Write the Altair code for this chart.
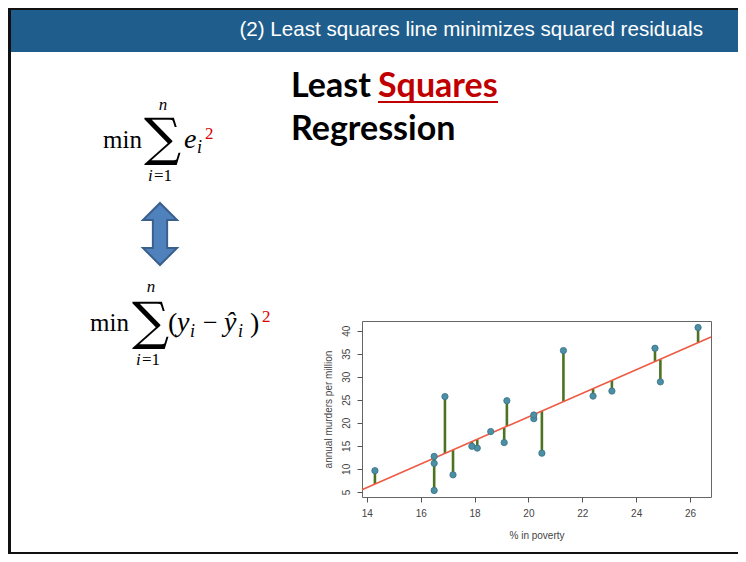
import altair as alt
import pandas as pd
import numpy as np

# ---- data (OpenIntro murder vs poverty, 20 metro areas) ----
poverty = [16.5, 20.5, 26.3, 16.5, 19.2, 16.5, 20.2, 21.3, 17.2, 14.3,
           18.1, 23.1, 19.1, 24.7, 18.6, 24.9, 17.9, 22.4, 20.2, 16.9]
murder = [11.2, 13.4, 40.7, 5.3, 24.8, 12.7, 20.9, 35.7, 8.7, 9.6,
          14.5, 26.9, 15.7, 36.2, 18.1, 28.9, 14.9, 25.8, 21.7, 25.7]
x_ticks = [14, 16, 18, 20, 22, 24, 26]
y_ticks = [5, 10, 15, 20, 25, 30, 35, 40]
x_domain = [13.82, 26.78]
y_domain = [3.88, 42.12]

slope, intercept = np.polyfit(poverty, murder, 1)
df = pd.DataFrame({"poverty": poverty, "murder": murder})
df["fitted"] = intercept + slope * df["poverty"]

# plot-area origin on the page
OX, OY = 362, 321
one = pd.DataFrame({"a": [0]})

xs = alt.Scale(domain=x_domain, nice=False, zero=False)
ys = alt.Scale(domain=y_domain, nice=False, zero=False)
x_axis = alt.Axis(values=x_ticks, title="% in poverty", labelPadding=6,
                  titlePadding=12, labelOverlap=False, labelFlush=False)
y_axis = alt.Axis(values=y_ticks, title="annual murders per million",
                  labelAngle=270, labelAlign="center", labelBaseline="bottom",
                  labelPadding=6, titlePadding=8, labelOverlap=False,
                  labelFlush=False, labelBound=False)

base = alt.Chart(df)

resid = base.mark_rule(color="#4B7322", strokeWidth=2.6).encode(
    x=alt.X("poverty:Q", scale=xs, axis=x_axis),
    y=alt.Y("fitted:Q", scale=ys, axis=y_axis),
    y2="murder:Q",
)

reg = base.transform_regression("poverty", "murder", extent=x_domain).mark_line(
    color="#EE5A44", strokeWidth=1.6
).encode(x=alt.X("poverty:Q", scale=xs, axis=x_axis),
         y=alt.Y("murder:Q", scale=ys, axis=y_axis))

pts = base.mark_point(filled=True, size=40, fill="#4B8FA5", stroke="#3A7185",
                      strokeWidth=0.8, opacity=1).encode(
    x=alt.X("poverty:Q", scale=xs, axis=x_axis),
    y=alt.Y("murder:Q", scale=ys, axis=y_axis))


def rect(x1, y1, x2, y2, color):
    return alt.Chart(one).mark_rect(color=color).encode(
        x=alt.value(x1 - OX), x2=alt.value(x2 - OX),
        y=alt.value(y1 - OY), y2=alt.value(y2 - OY))


def txt(s, px, py, size, font="Liberation Serif", color="black", weight="normal",
        style="normal", align="left", baseline="alphabetic"):
    return alt.Chart(one).mark_text(text=s, font=font, fontSize=size, color=color,
                                    fontWeight=weight, fontStyle=style, align=align,
                                    baseline=baseline).encode(
        x=alt.value(px - OX), y=alt.value(py - OY))


layers = []
# slide frame and header
layers.append(rect(8, 10, 738, 52, "#1F5E8C"))
layers.append(rect(8, 8, 738, 10, "#111111"))
layers.append(rect(8, 8, 11, 554, "#111111"))
layers.append(rect(8, 552, 738, 554, "#111111"))
layers.append(txt("(2) Least squares line minimizes squared residuals", 703, 30, 20.6,
                  font="Liberation Sans", color="white", align="right", baseline="middle"))

# title
layers.append(txt("Least", 291, 97, 34, font="Lato", weight="bold"))
layers.append(txt("Squares", 378, 97, 34, font="Lato", weight="bold", color="#C00000"))
layers.append(rect(378, 101, 498, 103, "#C00000"))
layers.append(txt("Regression", 291, 140, 34, font="Lato", weight="bold"))

RED = "#DD0000"
# formula 1
layers.append(txt("min", 103, 148, 25))
layers.append(txt("∑", 162.5, 155, 52, font="DejaVu Serif", align="center"))
layers.append(txt("n", 163, 110, 17, style="italic", align="center"))
layers.append(txt("i", 148, 181, 17, style="italic"))
layers.append(txt("=1", 154, 181, 17))
layers.append(txt("e", 184, 148, 28, style="italic"))
layers.append(txt("i", 197, 153, 18, style="italic"))
layers.append(txt("2", 205, 139, 17, color=RED))

# double arrow
arrow = ("M0,-1 L0.55,-0.45 L0.23,-0.45 L0.23,0.45 L0.55,0.45 L0,1 "
         "L-0.55,0.45 L-0.23,0.45 L-0.23,-0.45 L-0.55,-0.45 Z")
layers.append(alt.Chart(one).mark_point(shape=arrow, size=3844, filled=True,
                                        fill="#4F81BD", stroke="#3A5F8C",
                                        strokeWidth=2, opacity=1).encode(
    x=alt.value(160 - OX), y=alt.value(234 - OY)))

# formula 2
layers.append(txt("min", 90, 331, 25))
layers.append(txt("∑", 150.5, 339, 52, font="DejaVu Serif", align="center"))
layers.append(txt("n", 151, 292, 17, style="italic", align="center"))
layers.append(txt("i", 136, 365, 17, style="italic"))
layers.append(txt("=1", 142, 365, 17))
layers.append(txt("(", 168, 332, 28))
layers.append(txt("y", 177, 331, 28, style="italic"))
layers.append(txt("i", 190, 337, 18, style="italic"))
layers.append(txt("−", 203, 331, 26))
layers.append(txt("ŷ", 224, 331, 28, style="italic"))
layers.append(txt("i", 238, 337, 18, style="italic"))
layers.append(txt(")", 250, 332, 28))
layers.append(txt("2", 262, 322, 17, color=RED))

chart = alt.layer(resid, reg, pts, *layers).properties(
    width=349, height=176,
    autosize=alt.AutoSizeParams(type="none"),
    padding={"left": 354, "top": 313, "right": 27, "bottom": 57},
    background="white",
).configure_view(stroke="#666666", strokeWidth=1).configure_axis(
    domain=False, grid=False, tickColor="#555555", tickSize=5,
    labelFont="Liberation Sans", labelFontSize=10, labelColor="#444444",
    titleFont="Liberation Sans", titleFontSize=10, titleFontWeight="normal",
    titleColor="#444444", labelOverlap=False,
)

chart.save("out.html", embed_options={"renderer": "svg", "actions": False})
